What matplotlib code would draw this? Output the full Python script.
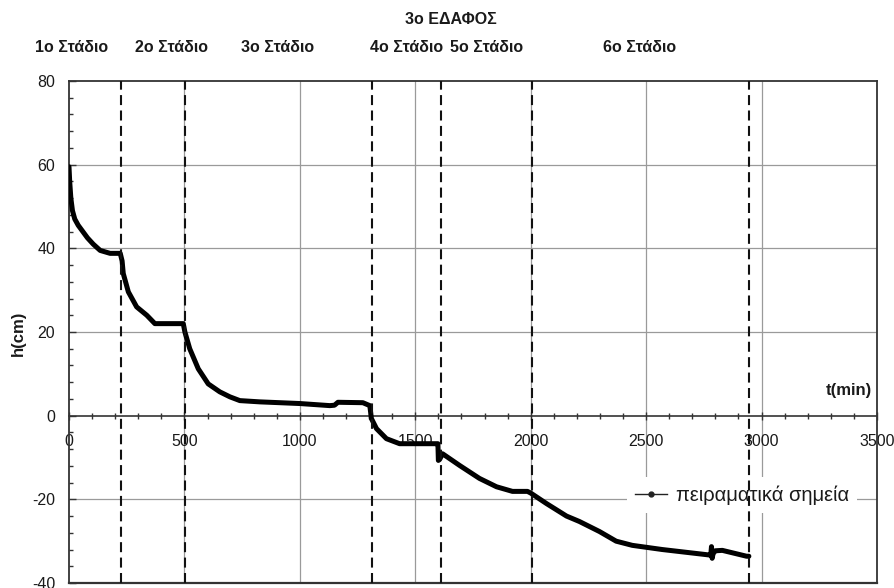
import numpy as np
import matplotlib
matplotlib.use("Agg")
import matplotlib.pyplot as plt
from matplotlib.lines import Line2D
from matplotlib.ticker import MultipleLocator

plt.rcParams['font.family'] = ['Liberation Sans', 'DejaVu Sans']
plt.rcParams['axes.unicode_minus'] = False

t_min = [0, 3, 8, 15, 25, 40, 60, 80, 105, 135, 178, 222, 230, 235, 257,
         293, 337, 372, 495, 502, 523, 560, 603, 653, 697, 740, 826, 1000,
         1130, 1150, 1165, 1273, 1303, 1310, 1332, 1375, 1432, 1592, 1598,
         1600, 1605, 1618, 1692, 1778, 1852, 1921, 1986, 2000, 2068, 2155,
         2211, 2298, 2370, 2440, 2570, 2773, 2780, 2783, 2786, 2790, 2800,
         2830, 2935, 2945]
h_cm = [59.5, 56, 52, 49, 47, 45.5, 44, 42.5, 41, 39.5, 38.8, 38.8, 37, 34,
        29.6, 26, 24, 22, 22, 20, 16, 11.2, 7.6, 5.7, 4.5, 3.6, 3.3, 2.9,
        2.4, 2.5, 3.2, 3.1, 2.4, -0.7, -3.1, -5.5, -6.7, -6.7, -6.7, -10.7,
        -10.5, -9.1, -11.9, -15, -17, -18.1, -18.1, -18.5, -21, -24, -25.3,
        -27.7, -30, -31, -32, -33.3, -33.3, -31.3, -34.1, -33, -32.3, -32.2,
        -33.6, -33.6]

# stage boundaries (dashed lines) and labels
stage_bounds = [225, 502, 1312, 1610, 2004, 2945]
stage_labels = ['1o Στάδιο', '2o Στάδιο', '3o Στάδιο', '4o Στάδιο',
                '5o Στάδιο', '6o Στάδιο']
stage_label_x = [72, 172, 278, 407, 487, 640]  # pixel centres
title = '3o ΕΔΑΦΟΣ'
legend_label = 'πειραματικά σημεία'

W, H = 895, 588
fig = plt.figure(figsize=(W / 100, H / 100), dpi=100)
ax = fig.add_axes([69 / W, 5 / H, (877 - 69) / W, (583 - 81) / H])

txt = '#1a1a1a'
grid_c = '#9a9a9a'

ax.set_xlim(0, 3500)
ax.set_ylim(-40, 80)

# grid
for gx in [500, 1000, 1500, 2000, 2500, 3000]:
    ax.axvline(gx, color=grid_c, lw=0.9, zorder=1)
for gy in [60, 40, 20, -20]:
    ax.axhline(gy, color=grid_c, lw=0.9, zorder=1)

# stage boundaries
for sx in stage_bounds:
    ax.axvline(sx, color='#111111', lw=1.5, ls=(0, (4.8, 2.6)), zorder=6)

ax.plot(t_min, h_cm, color='black', lw=3.6, solid_joinstyle='round',
        solid_capstyle='round', zorder=4)

# axes: x axis crosses at h=0, frame around
for s in ['top', 'right', 'left']:
    ax.spines[s].set_color('#333333')
    ax.spines[s].set_linewidth(1.3)
ax.spines['bottom'].set_position(('data', 0))
ax.spines['bottom'].set_color('#333333')
ax.spines['bottom'].set_linewidth(1.2)
ax.axhline(-40, color='#333333', lw=1.6, clip_on=False, zorder=3)

ax.xaxis.set_major_locator(MultipleLocator(500))
ax.xaxis.set_minor_locator(MultipleLocator(100))
ax.yaxis.set_major_locator(MultipleLocator(20))
ax.yaxis.set_minor_locator(MultipleLocator(4))
ax.tick_params(axis='x', which='major', direction='inout', length=6,
               width=1, color='#333333', pad=10, labelsize=11.5, labelcolor=txt)
ax.tick_params(axis='x', which='minor', direction='inout', length=5,
               width=1, color='#333333')
ax.tick_params(axis='y', which='major', direction='in', length=5,
               width=1, color='#333333', pad=10, labelsize=11.5, labelcolor=txt)
ax.tick_params(axis='y', which='minor', direction='in', length=3,
               width=1, color='#333333')
ax.set_xticks(np.arange(0, 3501, 500))
ax.set_xticklabels([str(v) for v in range(0, 3501, 500)])

ax.text(3480, 6, 't(min)', ha='right', va='center', fontsize=12,
        fontweight='bold', color=txt)
fig.text(18 / W, 1 - 333 / H, 'h(cm)', rotation=90, ha='center',
         va='center', fontsize=12, fontweight='bold', color=txt)

fig.text(451 / W, 1 - 19 / H, title, ha='center', va='center',
         fontsize=11.5, fontweight='bold', color=txt)
for lab, px in zip(stage_labels, stage_label_x):
    fig.text(px / W, 1 - 47 / H, lab, ha='center', va='center',
             fontsize=11.5, fontweight='bold', color=txt)

handle = Line2D([], [], color='#222222', lw=1, marker='o', markersize=3.5)
leg = ax.legend([handle], [legend_label], loc='center',
                bbox_to_anchor=(0.833, 0.175), frameon=True, fancybox=False,
                framealpha=1, edgecolor='none', fontsize=14.5,
                handlelength=1.6, handletextpad=0.45, borderpad=0.4)
for t in leg.get_texts():
    t.set_color(txt)

fig.savefig('out.png', dpi=100)
